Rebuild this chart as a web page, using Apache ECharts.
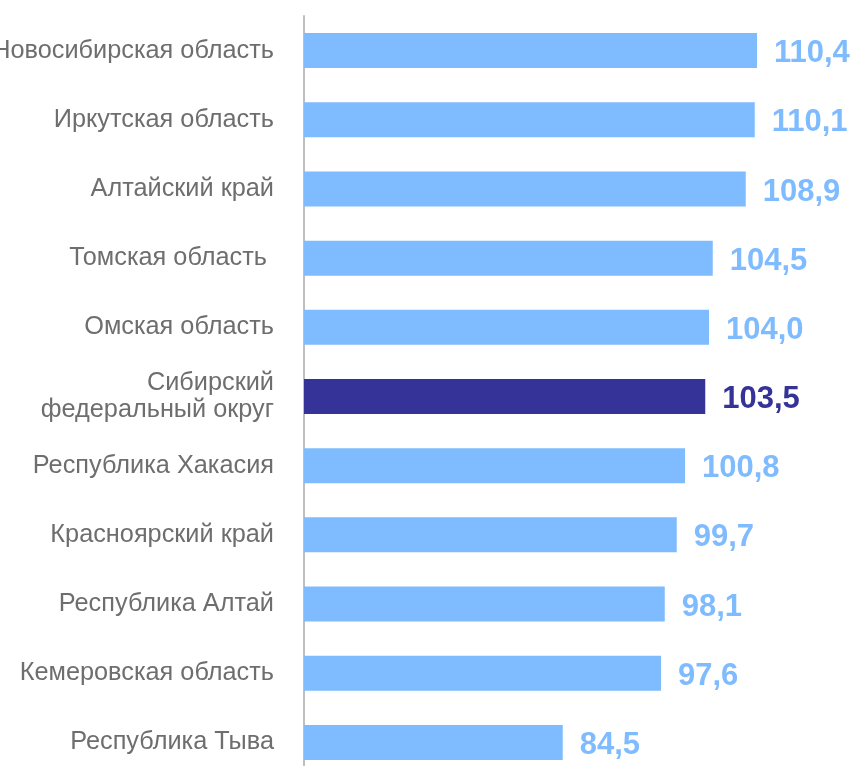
<!DOCTYPE html>
<html>
<head>
<meta charset="utf-8">
<script src="https://cdn.jsdelivr.net/npm/echarts@6/dist/echarts.min.js"></script>
<style>
  html, body { margin: 0; padding: 0; background: #fff; }
  #chart { width: 856px; height: 766px; }
</style>
</head>
<body>
<div id="chart"></div>
<script>
const regions = [
  'Новосибирская область',
  'Иркутская область',
  'Алтайский край',
  'Томская область ',
  'Омская область',
  'Сибирский\nфедеральный округ',
  'Республика Хакасия',
  'Красноярский край',
  'Республика Алтай',
  'Кемеровская область',
  'Республика Тыва'
]
const values = [110.4, 110.1, 108.9, 104.5, 104.0, 103.5, 100.8, 99.7, 98.1, 97.6, 84.5]
const highlighted = 'Сибирский\nфедеральный округ'

const lightBlue = '#7fbbff'
const darkBlue = '#353397'
const font = "'Liberation Sans', Arial, sans-serif"

const chart = echarts.init(document.getElementById('chart'))

const option = {
  animation: false,
  grid: {
    left: 304,
    top: 16,
    width: 525,
    height: 761,
    containLabel: false,
    outerBoundsMode: 'none'
  },
  xAxis: {
    type: 'value',
    min: 50,
    max: 120,
    show: false,
    splitLine: { show: false }
  },
  yAxis: {
    type: 'category',
    inverse: true,
    data: regions,
    axisLine: { show: true, lineStyle: { color: '#bfbfbf', width: 2 } },
    axisTick: { show: false },
    axisLabel: {
      margin: 30,
      color: '#6e6e6e',
      fontFamily: font,
      fontSize: 25.3,
      lineHeight: 27,
      padding: [8, 0, 0, 0]
    }
  },
  series: [
    {
      type: 'bar',
      barWidth: 35,
      data: values.map((v, i) => {
        const c = regions[i] === highlighted ? darkBlue : lightBlue
        return {
          value: v,
          itemStyle: { color: c },
          label: { color: c }
        }
      }),
      label: {
        show: true,
        position: 'right',
        distance: 17,
        offset: [0, 3],
        fontFamily: font,
        fontSize: 31,
        fontWeight: 'bold',
        formatter: p => p.value.toFixed(1).replace('.', ',')
      }
    }
  ]
}

chart.setOption(option)
</script>
</body>
</html>
